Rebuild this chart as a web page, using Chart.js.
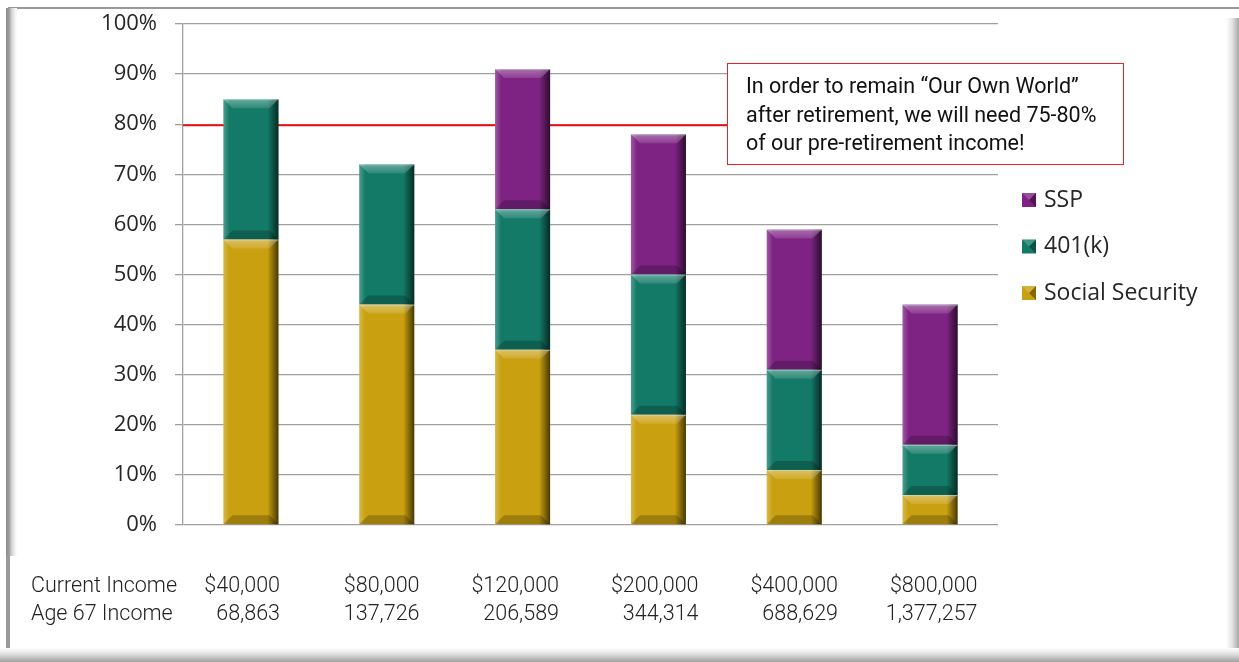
<!DOCTYPE html>
<html>
<head>
<meta charset="utf-8">
<script src="https://cdn.jsdelivr.net/npm/chart.js@4.4.0/dist/chart.umd.min.js"></script>
<style>
  html, body { margin: 0; padding: 0; background: #fff; }
  #wrap { position: relative; width: 1239px; height: 662px; overflow: hidden; }
  #chart { position: absolute; left: 0; top: 0; }
  .edge { position: absolute; pointer-events: none; }
</style>
</head>
<body>
<div id="wrap">
  <div class="edge" style="left:8px;top:7px;width:1231px;height:2px;background:#9a9a9a"></div>
  <div class="edge" style="left:6px;top:8px;width:11px;height:548px;background:linear-gradient(to right,#8c8c8c 0,#9c9c9c 3px,#d8d8d8 6px,#fff 11px)"></div>
  <div class="edge" style="left:6px;top:556px;width:4px;height:106px;background:#9a9a9a"></div>
  <div class="edge" style="left:1226px;top:18px;width:13px;height:644px;background:linear-gradient(to right,#fff 0,#e4e4e4 6px,#a8a8a8 13px)"></div>
  <div class="edge" style="left:0;top:648px;width:1239px;height:14px;background:linear-gradient(to bottom,#fff 0,#e0e0e0 6px,#a0a0a0 14px)"></div>
  <canvas id="chart" width="1239" height="662"></canvas>
</div>
<script>
const categories = ["$40,000", "$80,000", "$120,000", "$200,000", "$400,000", "$800,000"];
const age67Income = ["68,863", "137,726", "206,589", "344,314", "688,629", "1,377,257"];
const rowLabels = ["Current Income", "Age 67 Income"];

const socialSecurity = [57, 44, 35, 22, 11, 6];
const k401 = [28, 28, 28, 28, 20, 10];
const ssp = [0, 0, 28, 28, 28, 28];

const yTicks = [0, 10, 20, 30, 40, 50, 60, 70, 80, 90, 100];
const targetLine = 80;
const noteLines = [
    "In order to remain \u201cOur Own World\u201d",
    "after retirement, we will need 75-80%",
    "of our pre-retirement income!",
];

// red 80% line, drawn behind the bars
const targetPlugin = {
    id: "target",
    beforeDatasetsDraw(chart) {
        const ctx = chart.ctx;
        const y = chart.scales.y.getPixelForValue(targetLine) + 1;
        ctx.save();
        ctx.strokeStyle = "#ee1111";
        ctx.lineWidth = 2;
        ctx.beginPath();
        ctx.moveTo(chart.chartArea.left, y);
        ctx.lineTo(727, y);
        ctx.stroke();
        ctx.restore();
    },
};

// bevel look on each bar segment
const bevelPlugin = {
    id: "bevel",
    afterDatasetsDraw(chart) {
        const ctx = chart.ctx;
        chart.data.datasets.forEach((ds, di) => {
            chart.getDatasetMeta(di).data.forEach((bar) => {
                const p = bar.getProps(["x", "y", "base", "width"], true);
                const top = Math.min(p.y, p.base);
                const h = Math.abs(p.base - p.y);
                if (h < 1) return;
                const l = p.x - p.width / 2;
                const r = p.x + p.width / 2;
                const b = Math.min(9, h / 2);
                ctx.save();
                // right shade
                let g = ctx.createLinearGradient(r - 11, 0, r, 0);
                g.addColorStop(0, "rgba(0,0,0,0)");
                g.addColorStop(1, "rgba(0,0,0,0.65)");
                ctx.fillStyle = g;
                ctx.fillRect(r - 11, top, 11, h);
                // left highlight
                g = ctx.createLinearGradient(l, 0, l + 6, 0);
                g.addColorStop(0, "rgba(255,255,255,0.25)");
                g.addColorStop(1, "rgba(255,255,255,0)");
                ctx.fillStyle = g;
                ctx.fillRect(l, top, 6, h);
                // top bevel
                g = ctx.createLinearGradient(0, top, 0, top + b);
                g.addColorStop(0, "rgba(255,255,255,0.35)");
                g.addColorStop(1, "rgba(255,255,255,0.12)");
                ctx.fillStyle = g;
                ctx.beginPath();
                ctx.moveTo(l, top);
                ctx.lineTo(r, top);
                ctx.lineTo(r - b, top + b);
                ctx.lineTo(l + b, top + b);
                ctx.closePath();
                ctx.fill();
                // bottom bevel
                ctx.fillStyle = "rgba(0,0,0,0.22)";
                ctx.beginPath();
                ctx.moveTo(l, top + h);
                ctx.lineTo(r, top + h);
                ctx.lineTo(r - b, top + h - b);
                ctx.lineTo(l + b, top + h - b);
                ctx.closePath();
                ctx.fill();
                // thin light edge on top
                ctx.fillStyle = "rgba(200,240,235,0.45)";
                ctx.fillRect(l, top, p.width, 1);
                ctx.restore();
            });
        });
    },
};

// legend, note box and income table
const extrasPlugin = {
    id: "extras",
    afterDraw(chart) {
        const ctx = chart.ctx;
        const area = chart.chartArea;
        ctx.save();

        // legend (reverse order)
        const items = chart.data.datasets.slice().reverse();
        ctx.font = "23px 'Open Sans'";
        ctx.textBaseline = "middle";
        ctx.textAlign = "left";
        items.forEach((ds, i) => {
            const cy = 200 + i * 46.5;
            ctx.fillStyle = ds.backgroundColor;
            ctx.fillRect(1022, cy - 7, 14, 14);
            ctx.fillStyle = "rgba(0,0,0,0.35)";
            ctx.beginPath();
            ctx.moveTo(1036, cy - 7);
            ctx.lineTo(1036, cy + 7);
            ctx.lineTo(1029, cy);
            ctx.closePath();
            ctx.fill();
            ctx.fillStyle = "rgba(255,255,255,0.2)";
            ctx.beginPath();
            ctx.moveTo(1022, cy - 7);
            ctx.lineTo(1036, cy - 7);
            ctx.lineTo(1029, cy);
            ctx.closePath();
            ctx.fill();
            ctx.fillStyle = "#262626";
            ctx.fillText(ds.label, 1044, cy);
        });

        // note box
        ctx.fillStyle = "#fff";
        ctx.fillRect(727, 63, 397, 102);
        ctx.strokeStyle = "#ee2222";
        ctx.lineWidth = 1;
        ctx.strokeRect(727.5, 63.5, 396, 101);
        ctx.fillStyle = "#111";
        ctx.font = "21.5px Roboto";
        noteLines.forEach((t, i) => ctx.fillText(t, 746, 88 + i * 28.5));

        // income table under the chart
        ctx.font = "300 21.5px Roboto";
        ctx.fillStyle = "#222";
        ctx.textAlign = "left";
        ctx.fillText(rowLabels[0], 31, 587);
        ctx.fillText(rowLabels[1], 31, 615);
        ctx.textAlign = "right";
        categories.forEach((c, i) => {
            const right = area.left + 97 + i * 139.5;
            ctx.fillText(c, right, 587);
            ctx.fillText(age67Income[i], right, 615);
        });
        ctx.restore();
    },
};

const bar = { barPercentage: 0.405, categoryPercentage: 1 };

new Chart(document.getElementById("chart"), {
    type: "bar",
    data: {
        labels: categories,
        datasets: [
            { label: "Social Security", data: socialSecurity, backgroundColor: "#c9a010", ...bar },
            { label: "401(k)", data: k401, backgroundColor: "#137a67", ...bar },
            { label: "SSP", data: ssp, backgroundColor: "#7e2383", ...bar },
        ],
    },
    options: {
        responsive: false,
        animation: false,
        layout: { padding: { left: 0, right: 241, top: 24, bottom: 0 } },
        plugins: { legend: { display: false }, tooltip: { enabled: false } },
        scales: {
            x: {
                stacked: true,
                grid: { display: false },
                border: { display: false },
                ticks: { display: false },
                afterFit: (s) => { s.height = 137; },
            },
            y: {
                stacked: true,
                min: 0,
                max: 100,
                afterBuildTicks: (s) => { s.ticks = yTicks.map((v) => ({ value: v })); },
                ticks: {
                    padding: 18,
                    color: "#262626",
                    font: { family: "'Open Sans'", size: 22 },
                    callback: (v) => v + "%",
                },
                grid: { color: "#a0a0a0", lineWidth: 1.3, tickLength: 8 },
                border: { color: "#a0a0a0", width: 1.3 },
                afterFit: (s) => { s.width = 183; s.paddingTop = 0; s.paddingBottom = 0; },
            },
        },
    },
    plugins: [targetPlugin, bevelPlugin, extrasPlugin],
});
</script>
</body>
</html>
